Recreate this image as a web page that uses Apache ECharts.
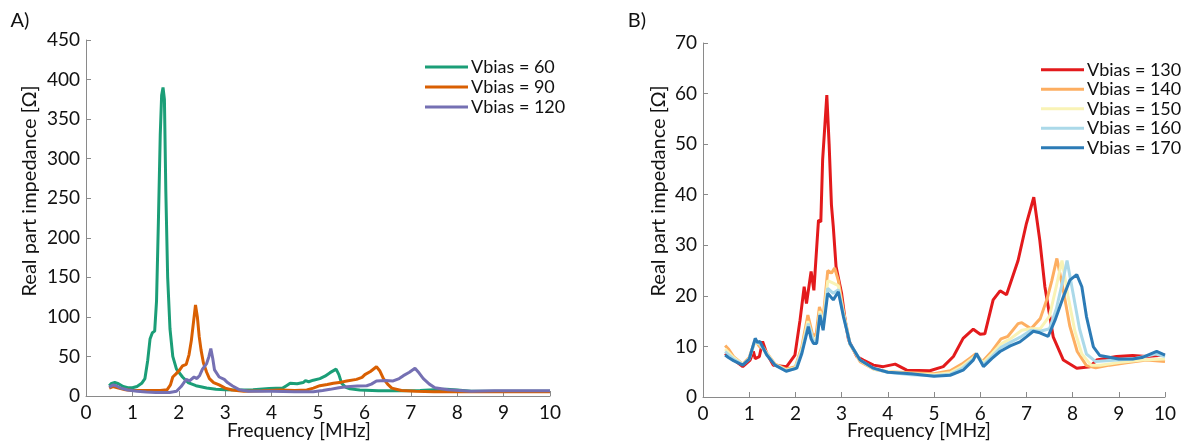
<!DOCTYPE html>
<html>
<head>
<meta charset="utf-8">
<script src="https://cdn.jsdelivr.net/npm/echarts@6/dist/echarts.min.js"></script>
<style>
  html, body { margin: 0; padding: 0; background: #fff; }
  #chart { width: 1184px; height: 445px; }
</style>
</head>
<body>
<div id="chart"></div>
<script>
// Panel A: real part of impedance [Ω] vs frequency [MHz], pairs of [f, value]
const namesA = ['Vbias = 60', 'Vbias = 90', 'Vbias = 120'];
const vbias60 = [[0.5,13],[0.55,16],[0.62,17],[0.7,15.5],[0.8,12],[0.9,10.5],[1.0,10.5],[1.1,12],[1.2,16],[1.27,22],[1.33,45],[1.38,72],[1.43,80],[1.48,82],[1.52,120],[1.56,220],[1.6,330],[1.63,380],[1.66,390],[1.69,375],[1.72,260],[1.76,150],[1.81,85],[1.87,50],[1.95,34],[2.08,24],[2.2,17],[2.37,13],[2.6,10],[2.8,8.5],[3.0,8],[3.3,7.5],[3.6,8],[3.95,9.5],[4.24,10],[4.32,13],[4.4,16],[4.55,15.5],[4.68,17],[4.73,19.5],[4.8,18],[4.9,20],[5.04,22],[5.15,25],[5.26,29.5],[5.39,34],[5.45,27],[5.51,16],[5.6,11],[5.69,9],[5.9,7.5],[6.3,6.5],[6.8,6.5],[7.2,7],[7.5,8],[7.77,8.5],[8.0,7.5],[8.3,6],[8.8,6],[9.3,6],[10,6]];
const vbias90 = [[0.5,10],[0.58,12],[0.7,10],[0.85,8],[1.0,7],[1.2,7],[1.4,7],[1.6,7],[1.75,8],[1.82,14],[1.87,24],[1.94,28],[2.02,33],[2.08,38],[2.16,40],[2.22,52],[2.27,70],[2.32,95],[2.36,115],[2.4,100],[2.44,75],[2.48,58],[2.53,42],[2.6,30],[2.66,22],[2.75,17],[2.87,14],[3.0,10],[3.15,7.5],[3.4,6],[3.8,6.5],[4.2,7.5],[4.5,7],[4.76,7.6],[4.9,10],[5.04,13],[5.2,14.5],[5.33,16],[5.5,17.5],[5.62,19],[5.83,21],[5.95,23.5],[6.01,27],[6.13,31],[6.26,37],[6.33,32],[6.41,22],[6.5,15],[6.59,10],[6.8,7],[7.1,6],[7.5,5.5],[8,5.5],[8.5,5.5],[9,5.5],[9.5,5.5],[10,5.5]];
const vbias120 = [[0.5,11],[0.58,14],[0.65,13],[0.75,10],[0.9,7.5],[1.1,6],[1.3,5],[1.5,4.5],[1.8,4.5],[1.95,6],[2.05,12],[2.16,21],[2.23,19],[2.33,24],[2.39,22],[2.45,26],[2.51,34],[2.6,41],[2.65,50],[2.69,60],[2.73,48],[2.77,33],[2.87,24],[2.98,21],[3.05,17],[3.16,12.7],[3.3,8],[3.5,6],[4.0,6],[4.5,5.5],[4.9,5.5],[5.1,7],[5.26,8.4],[5.45,10.5],[5.62,11.8],[5.85,12.5],[6.05,13],[6.15,15],[6.26,19],[6.45,19.5],[6.62,19],[6.75,22],[6.84,25.7],[6.97,30],[7.09,35],[7.18,29],[7.27,22],[7.4,15],[7.52,10.5],[7.8,8],[8.3,6],[8.8,6.5],[9.3,6.5],[10,6.5]];

// Panel B
const namesB = ['Vbias = 130', 'Vbias = 140', 'Vbias = 150', 'Vbias = 160', 'Vbias = 170'];
const vbias130 = [[0.48,8.6],[0.55,8],[0.66,7.4],[0.86,6],[1.02,7.3],[1.09,9],[1.13,7.6],[1.22,8],[1.29,11],[1.38,8.6],[1.52,6.3],[1.81,6],[1.99,8.3],[2.1,15.2],[2.19,21.8],[2.24,18.5],[2.34,24.8],[2.4,21.1],[2.5,35],[2.55,34.6],[2.59,47],[2.64,54],[2.68,59.7],[2.73,50],[2.78,38],[2.82,33.7],[2.88,25.8],[3.0,20.5],[3.08,15],[3.15,11.3],[3.33,8],[3.47,7.3],[3.69,6.3],[3.9,6],[4.16,6.5],[4.41,5.3],[4.91,5.2],[5.2,6],[5.42,8],[5.63,11.6],[5.85,13.4],[6.0,12.4],[6.1,12.5],[6.28,19.2],[6.43,21],[6.57,20.2],[6.82,27],[7.0,34.3],[7.16,39.5],[7.29,31],[7.4,21.8],[7.58,11.9],[7.8,7.3],[8.09,5.7],[8.38,6],[8.52,7.3],[8.95,8],[9.3,8.2],[9.6,8],[10,8.3]];
const vbias140 = [[0.48,10.2],[0.55,9.5],[0.66,8],[0.86,6.5],[1.0,7.8],[1.1,10.5],[1.15,11],[1.22,10],[1.3,9.8],[1.4,8.5],[1.56,6.5],[1.8,5.5],[2.0,6],[2.14,10],[2.27,16.2],[2.38,12],[2.45,12.5],[2.52,17.8],[2.6,15.5],[2.7,25],[2.78,24.5],[2.85,25.5],[2.93,23],[3.04,17],[3.18,10.5],[3.4,7],[3.7,5.5],[4.0,5],[4.5,4.8],[5.0,4.6],[5.35,5.2],[5.6,6.5],[5.8,7.8],[5.9,8.5],[6.05,7],[6.25,9],[6.45,11.5],[6.6,12],[6.82,14.5],[6.9,14.7],[7.1,13.5],[7.3,15.5],[7.45,19.5],[7.55,23],[7.66,27.4],[7.8,21],[7.94,14],[8.1,9],[8.3,6.2],[8.5,5.8],[8.8,6.3],[9.2,6.8],[9.6,7.3],[10,7]];
const vbias150 = [[0.48,9.5],[0.66,7.8],[0.86,6.5],[1.0,7.6],[1.12,10.8],[1.22,10.5],[1.4,8.4],[1.56,6.4],[1.8,5.3],[2.0,5.8],[2.14,9.5],[2.27,15],[2.38,11.5],[2.46,11.5],[2.53,17],[2.6,14.5],[2.7,23],[2.82,22.5],[2.93,22],[3.04,16.5],[3.18,10.5],[3.4,7.2],[3.7,5.5],[4.0,5],[4.5,4.6],[5.0,4.4],[5.35,4.8],[5.6,6],[5.85,7.8],[5.92,8.2],[6.07,6.8],[6.25,8.5],[6.45,10.5],[6.65,11.5],[6.9,13.2],[7.1,13.5],[7.3,13.5],[7.5,16],[7.65,22],[7.77,27],[7.9,20],[8.05,13],[8.2,8.5],[8.4,6.3],[8.6,6.3],[9,6.8],[9.5,7.3],[10,7.5]];
const vbias160 = [[0.48,9],[0.66,7.5],[0.86,6.4],[1.0,7.5],[1.12,11],[1.22,10.6],[1.4,8.3],[1.56,6.3],[1.8,5.2],[2.0,5.6],[2.14,9],[2.28,14.5],[2.39,11],[2.46,11],[2.53,16.5],[2.6,13.8],[2.7,21.5],[2.82,20.5],[2.93,21.2],[3.04,16.2],[3.18,10.6],[3.4,7.3],[3.7,5.6],[4.0,4.9],[4.5,4.4],[5.0,4.2],[5.35,4.5],[5.6,5.6],[5.85,7.5],[5.92,8.3],[6.07,6.4],[6.25,8],[6.45,9.8],[6.65,10.8],[6.9,12],[7.1,13.2],[7.3,13],[7.5,13.5],[7.65,17.5],[7.8,23.5],[7.88,27],[8.0,21],[8.15,13.5],[8.3,8.5],[8.5,7],[8.8,7.2],[9.3,7.5],[9.8,8.5],[10,8]];
const vbias170 = [[0.48,8.3],[0.55,7.8],[0.66,7.2],[0.86,6.3],[1.0,7.5],[1.13,11.6],[1.18,10.8],[1.23,11],[1.38,8.3],[1.56,6.3],[1.8,5.1],[2.03,5.7],[2.14,8.6],[2.28,13.9],[2.34,11.5],[2.39,10.6],[2.46,10.6],[2.53,16.2],[2.6,13.2],[2.7,20.5],[2.82,19.2],[2.93,20.8],[3.04,15.9],[3.18,10.6],[3.4,7.3],[3.69,5.7],[4.0,4.9],[4.5,4.6],[5.0,4.1],[5.35,4.3],[5.63,5.3],[5.85,7.3],[5.92,8.6],[6.07,6],[6.25,7.6],[6.43,9],[6.65,10.1],[6.86,10.9],[7.0,11.9],[7.15,13],[7.29,12.7],[7.47,12],[7.62,15.2],[7.8,19.8],[7.94,23.1],[8.09,24.2],[8.2,21.8],[8.3,15.9],[8.45,9.9],[8.59,8.2],[9.0,7.5],[9.3,7.5],[9.5,7.8],[9.82,9],[10,8.3]];

const colorsA = ['#1b9e77', '#d95f02', '#7570b3'];
const colorsB = ['#e31a1c', '#fdae61', '#f9f3b6', '#abd9e9', '#2c7bb6'];

const FONT = 'Lato, "Open Sans", sans-serif';
const axisGrey = '#8a8a8a';

function xAxisFor(gridIndex) {
  return {
    type: 'value', gridIndex, min: 0, max: 10, interval: 1,
    axisLine: { show: true, lineStyle: { color: axisGrey, width: 1 } },
    axisTick: { show: true, inside: true, length: 5, lineStyle: { color: axisGrey } },
    axisLabel: { color: '#111', fontSize: 19, fontFamily: FONT, margin: 7 },
    splitLine: { show: false }
  };
}
function yAxisFor(gridIndex, max, interval) {
  return {
    type: 'value', gridIndex, min: 0, max, interval,
    axisLine: { show: true, lineStyle: { color: axisGrey, width: 1 } },
    axisTick: { show: true, inside: true, length: 5, lineStyle: { color: axisGrey } },
    axisLabel: { color: '#111', fontSize: 19, fontFamily: FONT, margin: 6 },
    splitLine: { show: false }
  };
}
function lineSeries(name, data, color, idx) {
  return {
    name, type: 'line', data, xAxisIndex: idx, yAxisIndex: idx,
    showSymbol: false, symbol: 'none', smooth: false,
    lineStyle: { color, width: 3 }, itemStyle: { color },
    emphasis: { disabled: true }
  };
}
function legendFor(names, left, top, lineHeight) {
  return {
    data: names, orient: 'vertical', left, top,
    icon: 'rect', itemWidth: 43, itemHeight: 3, itemGap: 0,
    textStyle: { fontSize: 18, fontFamily: FONT, color: '#111', lineHeight, padding: [0, 0, 0, -2] },
    selectedMode: false
  };
}
function label(text, x, y, rotation, size) {
  return {
    type: 'text', x, y, rotation: rotation || 0,
    style: { text, fill: '#111', font: size + 'px ' + FONT, textAlign: 'center', textVerticalAlign: 'middle' }
  };
}

const chart = echarts.init(document.getElementById('chart'), null, { renderer: 'canvas' });
chart.setOption({
  animation: false,
  backgroundColor: '#fff',
  grid: [
    { left: 86, right: 634, top: 40, bottom: 49 },
    { left: 703, right: 19, top: 43, bottom: 48 }
  ],
  xAxis: [xAxisFor(0), xAxisFor(1)],
  yAxis: [yAxisFor(0, 450, 50), yAxisFor(1, 70, 10)],
  legend: [
    legendFor(namesA, 420, 52, 20),
    legendFor(namesB, 1036, 55, 19.5)
  ],
  graphic: [
    label('A)', 20, 21, 0, 20),
    label('B)', 637, 21, 0, 20),
    label('Frequency [MHz]', 299, 431, 0, 19),
    label('Frequency [MHz]', 919, 431, 0, 19),
    label('Real part impedance [Ω]', 30, 191, Math.PI / 2, 20),
    label('Real part impedance [Ω]', 659, 191, Math.PI / 2, 20)
  ],
  series: [
    lineSeries(namesA[0], vbias60, colorsA[0], 0),
    lineSeries(namesA[1], vbias90, colorsA[1], 0),
    lineSeries(namesA[2], vbias120, colorsA[2], 0),
    lineSeries(namesB[0], vbias130, colorsB[0], 1),
    lineSeries(namesB[1], vbias140, colorsB[1], 1),
    lineSeries(namesB[2], vbias150, colorsB[2], 1),
    lineSeries(namesB[3], vbias160, colorsB[3], 1),
    lineSeries(namesB[4], vbias170, colorsB[4], 1)
  ]
});
</script>
</body>
</html>
